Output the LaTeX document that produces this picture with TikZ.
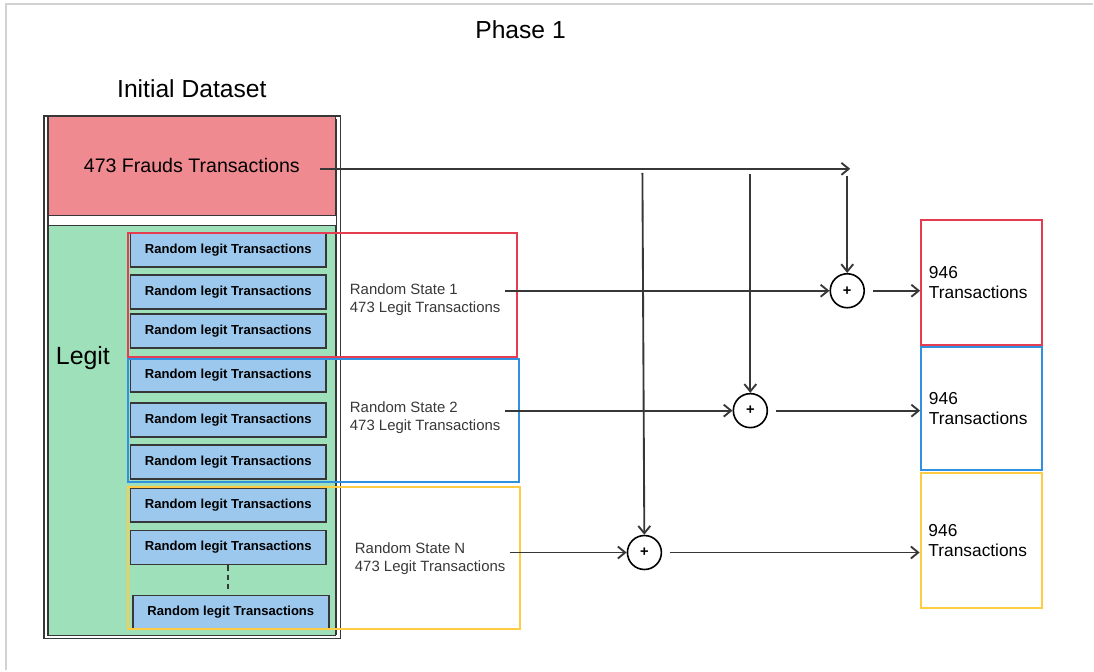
\documentclass[tikz,border=0pt]{standalone}
\usepackage{fontspec}
\setmainfont{Liberation Sans}
\usepackage{tikz}
\usetikzlibrary{arrows.meta}

\definecolor{fraudfill}{RGB}{240,138,145}
\definecolor{legitfill}{RGB}{158,224,186}
\definecolor{rowfill}{RGB}{156,200,238}
\definecolor{redline}{RGB}{230,60,82}
\definecolor{blueline}{RGB}{48,144,226}
\definecolor{yellowline}{RGB}{255,204,68}
\definecolor{darkline}{RGB}{55,55,55}
\definecolor{framegray}{RGB}{210,210,210}

\begin{document}
\begin{tikzpicture}[x=0.75pt,y=0.75pt,yscale=-1,xscale=1,
  dsbox/.style={draw=darkline, line width=1pt, inner sep=0pt},
  legitrow/.style={dsbox, fill=rowfill, line width=1.3pt, minimum width=147pt, minimum height=25.5pt, font=\fontsize{9.8}{12}\selectfont\bfseries},
  groupbox/.style={line width=1.5pt},
  statetext/.style={anchor=west, align=left, inner sep=3pt, text=darkline, font=\fontsize{11.2}{13.5}\selectfont},
  sumnode/.style={circle, draw=black, line width=1.2pt, fill=white, minimum size=25.5pt, inner sep=0pt, font=\fontsize{11}{11}\selectfont\bfseries},
  outbox/.style={line width=1.5pt, minimum width=90.75pt, text width=79pt, align=left, font=\fontsize{13}{15}\selectfont},
  arr/.style={draw=darkline, line width=1.4pt, -{Straight Barb[length=5.5pt,width=9pt]}}
]
\path (0,0) rectangle (1094,671); %set diagram size 1094 x 671

%Frame (left and top edges only)
\draw[framegray, line width=1.5pt] (6,671) -- (6,4) -- (1094,4);

% Text Node
\node[font=\fontsize{18.5}{22}\selectfont] (phase) at (521,30) {Phase 1};
% Text Node
\node[font=\fontsize{18.5}{22}\selectfont] (initial) at (192,89) {Initial Dataset};

%Shape: Double Rectangle
\draw[darkline, line width=1.1pt] (44,116) rectangle (341,639);
\draw[darkline, line width=1.1pt] (48,120) rectangle (337,635);

%Shape: Rectangle (frauds)
\node[dsbox, fill=fraudfill, minimum width=216pt, minimum height=75pt, font=\fontsize{14.7}{17}\selectfont] (fraud) at (192,166) {473 Frauds Transactions};
%Shape: Rectangle (legit)
\node[dsbox, fill=legitfill, minimum width=216pt, minimum height=307.5pt] (legit) at (192,431) {};
% Text Node
\node[font=\fontsize{18.7}{22}\selectfont] (legitlabel) at (83,358) {Legit};

%Random legit rows
\foreach \y [count=\i] in {250,292,331,375.5,420.5,462.5,505.5,548}
  \node[legitrow] (row\i) at (228.5,\y) {Random legit Transactions};
\node[legitrow] (row9) at (231,613) {Random legit Transactions};
\draw[darkline, line width=1.3pt, dash pattern=on 4pt off 3pt] (row8.south) -- (row8.south |- 590,590);

%Shape: group rectangles
\draw[groupbox, redline] (128,233) rectangle (517,357);
\draw[groupbox, blueline] (128,359) rectangle (519,482);
\draw[groupbox, yellowline] (128,487) rectangle (520,630);

% Text Node
\node[statetext] (rs1) at (346,300) {Random State 1\\473 Legit Transactions};
\node[statetext] (rs2) at (346,418) {Random State 2\\473 Legit Transactions};
\node[statetext] (rsn) at (351,559) {Random State N\\473 Legit Transactions};

%Shape: Circle
\node[sumnode] (sum1) at (848,291) {+};
\node[sumnode] (sum2) at (751,411) {+};
\node[sumnode] (sum3) at (645,553) {+};

%Shape: output rectangles
\node[outbox, draw=redline, minimum height=93.75pt] (out1) at (982.5,282.5) {946\\Transactions};
\node[outbox, draw=blueline, minimum height=92.25pt] (out2) at (982.5,408.5) {946\\Transactions};
\node[outbox, draw=yellowline, minimum height=102pt] (out3) at (982,541) {946\\Transactions};

%Fraud line
\coordinate (fsrc) at (320,169);
\coordinate (fend) at (851,169);
\coordinate (drop1) at (848,176);
\coordinate (drop2) at (751,174);
\coordinate (drop3) at (643,173);
\draw[arr] (fsrc) -- (fend);
\draw[arr] (drop1) -- (sum1);
\draw[arr] (drop2) -- (sum2);
\draw[arr] (drop3) -- (sum3);

%Straight Lines
\draw[arr] (rs1.east |- sum1) -- (sum1);
\draw[arr] (rs2.east |- sum2) -- (sum2);
\draw[arr] (rsn.east |- sum3) -- (sum3);
\draw[arr] ([xshift=6pt]sum1.east) -- (sum1 -| out1.west);
\draw[arr] ([xshift=6pt]sum2.east) -- (sum2 -| out2.west);
\draw[arr] ([xshift=6pt]sum3.east) -- (sum3 -| out3.west);

\end{tikzpicture}
\end{document}
